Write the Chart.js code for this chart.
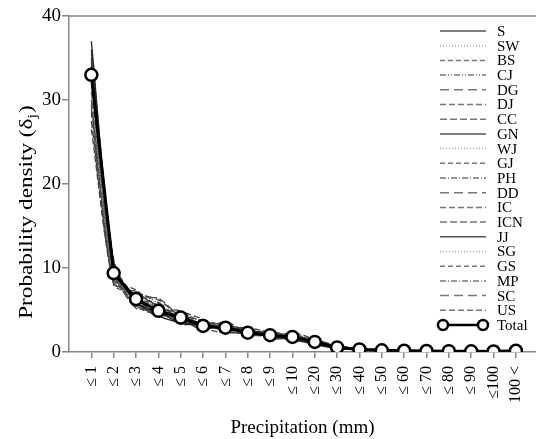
<!DOCTYPE html>
<html>
<head>
<meta charset="utf-8">
<script src="https://cdn.jsdelivr.net/npm/chart.js@4.4.1/dist/chart.umd.min.js"></script>
<style>
body{margin:0;background:#fff}
#wrap{width:536px;height:439px;position:relative}
</style>
</head>
<body>
<div id="wrap"><canvas id="densityChart"></canvas></div>
<script>

/* ---------------- DATA ---------------- */

const xLabels = ["≤ 1","≤ 2","≤ 3","≤ 4","≤ 5","≤ 6","≤ 7","≤ 8","≤ 9","≤ 10","≤ 20","≤ 30","≤ 40","≤ 50","≤ 60","≤ 70","≤ 80","≤ 90","≤100","100 <"]

const stationNames = ["S","SW","BS","CJ","DG","DJ","CC","GN","WJ","GJ","PH","DD","IC","ICN","JJ","SG","GS","MP","SC","US"]

const S   = [37.0,10.2,6.0,4.6,4.3,3.3,2.7,2.5,1.9,1.7,1.1,0.5,0.3,0.2,0.15,0.1,0.1,0.05,0.05,0.15]
const SW  = [31.5,8.8,6.8,5.2,3.8,3.4,3.1,2.2,2.1,1.9,1.3,0.6,0.35,0.25,0.15,0.1,0.1,0.05,0.05,0.1]
const BS  = [34.5,9.9,5.5,4.4,4.5,2.9,3.2,2.6,1.8,1.6,1.0,0.45,0.3,0.2,0.1,0.1,0.05,0.05,0.05,0.2]
const CJ  = [29.0,8.3,7.2,5.8,3.6,3.6,2.6,2.1,2.3,2.0,1.4,0.7,0.4,0.25,0.2,0.15,0.1,0.1,0.05,0.15]
const DG  = [33.5,9.7,5.2,5.3,4.0,2.8,3.0,2.7,1.7,2.1,1.2,0.55,0.3,0.15,0.1,0.1,0.05,0.05,0.05,0.1]
const DJ  = [35.5,10.6,6.4,4.2,4.7,3.5,2.5,2.3,2.2,1.5,1.1,0.5,0.35,0.2,0.15,0.1,0.1,0.05,0.05,0.2]
const CC  = [27.5,8.0,7.0,6.2,4.2,3.0,3.5,2.0,2.4,1.8,1.5,0.75,0.45,0.3,0.2,0.15,0.1,0.1,0.1,0.25]
const GN  = [34.0,10.8,5.8,4.8,3.4,3.2,2.8,2.8,1.6,1.6,1.0,0.45,0.25,0.15,0.1,0.05,0.05,0.05,0.05,0.1]
const WJ  = [30.5,9.0,6.6,5.0,4.6,2.7,3.3,2.4,2.0,2.2,1.3,0.6,0.4,0.25,0.15,0.1,0.1,0.1,0.05,0.15]
const GJ  = [36.0,11.0,5.6,4.5,3.9,3.4,2.4,2.2,2.5,1.7,1.2,0.5,0.3,0.2,0.1,0.1,0.05,0.05,0.05,0.1]
const PH  = [28.5,8.5,6.9,5.5,4.4,3.7,2.9,2.5,1.9,1.4,1.1,0.65,0.35,0.2,0.15,0.1,0.1,0.05,0.05,0.2]
const DD  = [32.5,9.3,6.2,5.9,3.7,3.1,3.4,1.9,2.2,2.0,1.3,0.55,0.3,0.2,0.15,0.1,0.05,0.05,0.05,0.15]
const IC  = [26.5,8.6,7.4,5.1,4.8,3.9,2.8,2.9,2.3,1.9,1.4,0.7,0.4,0.3,0.2,0.15,0.1,0.1,0.05,0.2]
const ICN = [31.0,9.6,6.5,6.4,4.1,2.6,3.6,2.3,1.8,2.3,1.5,0.6,0.35,0.25,0.15,0.1,0.1,0.05,0.05,0.15]
const JJ  = [35.0,10.4,5.9,4.3,3.5,3.3,2.6,2.6,2.1,1.5,0.9,0.4,0.25,0.15,0.1,0.05,0.05,0.05,0.05,0.1]
const SG  = [33.0,9.1,6.7,4.7,4.3,3.0,3.1,2.1,2.0,1.8,1.2,0.55,0.3,0.2,0.1,0.1,0.05,0.05,0.05,0.1]
const GS  = [29.5,8.9,6.1,5.6,3.3,3.5,2.7,2.7,1.7,1.9,1.3,0.6,0.4,0.25,0.15,0.1,0.1,0.05,0.05,0.15]
const MP  = [34.0,10.0,5.4,5.0,4.9,2.9,2.3,2.4,2.4,1.6,1.1,0.5,0.3,0.2,0.15,0.1,0.05,0.05,0.05,0.1]
const SC  = [30.0,8.2,7.1,5.4,3.8,3.8,3.0,2.0,2.0,2.1,1.4,0.65,0.35,0.25,0.2,0.15,0.1,0.1,0.05,0.2]
const US  = [32.0,9.5,6.3,4.6,4.0,3.2,2.9,2.3,1.9,1.7,1.2,0.5,0.3,0.2,0.15,0.1,0.05,0.05,0.05,0.15]

const Total = [33.0,9.4,6.3,4.9,4.1,3.1,2.9,2.3,2.0,1.8,1.2,0.55,0.3,0.2,0.15,0.12,0.1,0.08,0.06,0.15]

const stationValues = [S,SW,BS,CJ,DG,DJ,CC,GN,WJ,GJ,PH,DD,IC,ICN,JJ,SG,GS,MP,SC,US]

/* ---------------- LINE STYLES ---------------- */

const dashes = [
[], [1,2], [5,3], [6,2,1,2,1,2], [9,5], [6,3], [7,3],
[], [1,2], [5,3], [6,2,1,2], [9,5], [6,3], [7,3],
[], [1,2], [5,3], [6,2,1,2], [9,5], [6,3]
]

function lineColor(d){
if(d.length === 0) return "#222"
if(d[0] === 1) return "#888"
return "#444"
}

function legendColor(d){
if(d.length === 0) return "#555"
if(d[0] === 1) return "#aaa"
return "#777"
}

const toPoints = arr => arr.map((v,i) => ({x:i+1, y:v}))

const datasets = stationValues.map((vals,i) => ({
label: stationNames[i],
data: toPoints(vals),
borderColor: lineColor(dashes[i]),
borderDash: dashes[i],
borderWidth: 1.3,
pointRadius: 0,
tension: 0.25,
order: 1
}))

datasets.push({
label: "Total",
data: toPoints(Total),
borderColor: "#000",
borderWidth: 3,
pointRadius: 6,
pointBorderWidth: 2.5,
pointBackgroundColor: "#fff",
pointBorderColor: "#000",
tension: 0,
order: 0
})

/* ---------------- EXTRAS: TOP LINE, Y TITLE, LEGEND ---------------- */

const extras = {
id: "extras",
afterDraw(chart){
const c = chart.ctx
const a = chart.chartArea

c.save()
c.strokeStyle = "#888"
c.lineWidth = 1.5
c.beginPath()
c.moveTo(a.left, a.top)
c.lineTo(536, a.top)
c.stroke()

/* y title with subscript, stretched along its length like the original */
c.translate(32, 212)
c.rotate(-Math.PI/2)
c.scale(1.22, 1)
c.fillStyle = "#000"
c.textBaseline = "alphabetic"
const main = "Probability density (δ"
c.font = "19px 'Liberation Serif'"
const w1 = c.measureText(main).width
c.font = "13px 'Liberation Serif'"
const w2 = c.measureText("j").width
c.font = "19px 'Liberation Serif'"
const w3 = c.measureText(")").width
let x = -(w1 + w2 + 1 + w3)/2
c.textAlign = "left"
c.fillText(main, x, 0)
c.font = "13px 'Liberation Serif'"
c.fillText("j", x + w1, 4)
c.font = "19px 'Liberation Serif'"
c.fillText(")", x + w1 + w2 + 1, 0)
c.restore()

/* legend */
c.save()
c.font = "15px 'Liberation Serif'"
c.textBaseline = "middle"
c.textAlign = "left"
chart.data.datasets.forEach((ds,i) => {
const y = 31 + i*14.7
const total = ds.label === "Total"
c.strokeStyle = total ? "#000" : legendColor(ds.borderDash)
c.lineWidth = total ? 2.5 : 1.5
c.setLineDash(ds.borderDash || [])
c.beginPath()
c.moveTo(440, y)
c.lineTo(486, y)
c.stroke()
c.setLineDash([])
if(total){
[443, 483].forEach(px => {
c.beginPath()
c.arc(px, y, 5, 0, Math.PI*2)
c.fillStyle = "#fff"
c.fill()
c.lineWidth = 2.5
c.stroke()
})
}
c.fillStyle = "#000"
c.fillText(ds.label, 497, y + 1)
})
c.restore()
}
}

/* ---------------- CHART ---------------- */

const ctx = document.getElementById("densityChart").getContext("2d")

new Chart(ctx,{
type:"line",
data:{datasets},
options:{
responsive:true,
maintainAspectRatio:false,
animation:false,
layout:{autoPadding:false,padding:{top:16,right:0,bottom:0,left:0}},
plugins:{legend:{display:false},tooltip:{enabled:false}},
scales:{
x:{
type:"linear",
min:0,
max:20.9,
afterBuildTicks: s => { s.ticks = xLabels.map((_,i) => ({value:i+1})) },
afterFit: s => { s.height = 87; s.paddingLeft = 0; s.paddingRight = 0 },
ticks:{
autoSkip:false,
minRotation:90,
maxRotation:90,
padding:8,
color:"#000",
font:{family:"'Liberation Serif'",size:16},
callback: v => xLabels[v-1]
},
grid:{drawOnChartArea:false,drawTicks:true,tickLength:6,color:"#888",lineWidth:1.5},
border:{color:"#888",width:1.5},
title:{display:true,text:"Precipitation (mm)",color:"#000",font:{family:"'Liberation Serif'",size:19},padding:{top:0,bottom:0}}
},
y:{
min:0,
max:40,
afterFit: s => { s.width = 69 },
ticks:{
stepSize:10,
padding:1,
color:"#000",
font:{family:"'Liberation Serif'",size:19}
},
grid:{drawOnChartArea:false,drawTicks:true,tickLength:7,color:"#888",lineWidth:1.5},
border:{color:"#888",width:1.5}
}
}
},
plugins:[extras]
})

</script>
</body>
</html>
